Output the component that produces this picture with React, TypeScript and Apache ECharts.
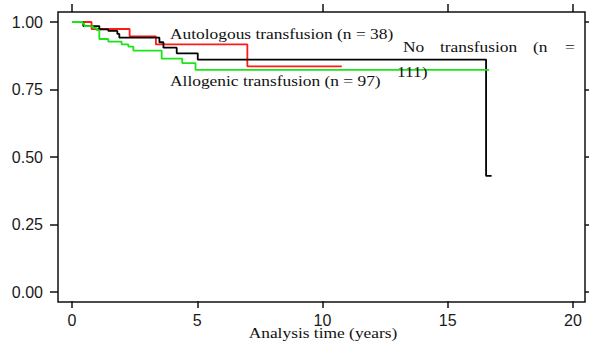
import React, { useEffect, useRef } from "react";
import * as echarts from "echarts";

// Kaplan-Meier step data (time in years, survival proportion)
const noTransTimes = [0, 0.45, 1.09, 1.45, 1.81, 1.89, 3.49, 3.65, 4.18, 5.02, 16.53, 16.75];
const noTransSurv = [1.0, 0.985, 0.973, 0.967, 0.956, 0.942, 0.925, 0.905, 0.884, 0.861, 0.43, 0.43];

const autoTimes = [0, 0.78, 2.3, 3.35, 7.0, 10.77];
const autoSurv = [1.0, 0.974, 0.947, 0.917, 0.836, 0.836];

const alloTimes = [0, 0.43, 0.49, 0.83, 0.98, 1.09, 1.45, 1.98, 2.25, 2.45, 3.58, 4.4, 4.93, 16.65];
const alloSurv = [1.0, 0.994, 0.985, 0.978, 0.97, 0.937, 0.927, 0.917, 0.909, 0.894, 0.864, 0.848, 0.823, 0.823];

const xTicks = [0, 5, 10, 15, 20];
const topTicks = [0, 10, 15, 20];
const yTickLabels = ["0.00", "0.25", "0.50", "0.75", "1.00"];

const xTitle = "Analysis time (years)";
const labelAuto = "Autologous transfusion (n = 38)";
const labelAllo = "Allogenic transfusion (n = 97)";
const labelNoWords = ["No", "transfusion", "(n", "="];
const labelNoLine2 = "111)";

const zip = (t: number[], s: number[]) => t.map((v, i) => [v, s[i]]);

const SERIF = "'Liberation Serif', 'Times New Roman', serif";
const SANS = "'Liberation Sans', Arial, sans-serif";

export default function App() {
  const ref = useRef<HTMLDivElement>(null);

  useEffect(() => {
    if (!ref.current) return;
    const chart = echarts.init(ref.current, null, { renderer: "svg" });

    const serifText = (text: string, x: number, y: number, align = "left") => ({
      type: "text",
      x,
      y,
      scaleX: 1.2,
      z: 10,
      style: {
        text,
        fontSize: 14.5,
        fontFamily: SERIF,
        fill: "#111",
        align,
        textAlign: align,
        verticalAlign: "middle",
        textVerticalAlign: "middle",
      },
    });

    const wordX = [403, 440, 533, 565];
    const tickStyle = { color: "#111", width: 1.5 };

    chart.setOption({
      animation: false,
      backgroundColor: "#fff",
      grid: { left: 72, right: 16, top: 22, bottom: 55, containLabel: false },
      xAxis: [
        {
          type: "value",
          position: "bottom",
          min: 0,
          max: 20,
          interval: 5,
          offset: 9,
          axisLine: { show: false, onZero: false },
          axisTick: { show: true, inside: false, length: 7, lineStyle: tickStyle },
          axisLabel: {
            fontSize: 16,
            fontFamily: SANS,
            color: "#1a1a1a",
            margin: 11,
            formatter: (v: number) => (xTicks.includes(v) ? String(v) : ""),
          },
          splitLine: { show: false },
        },
        {
          type: "value",
          position: "top",
          min: 0,
          max: 20,
          interval: 5,
          offset: 10,
          axisLine: { show: false, onZero: false },
          axisTick: {
            show: true,
            inside: false,
            length: 8,
            customValues: topTicks,
            lineStyle: tickStyle,
          },
          axisLabel: { show: false },
          splitLine: { show: false },
        },
      ],
      yAxis: [
        {
          type: "value",
          position: "left",
          min: 0,
          max: 1,
          interval: 0.25,
          offset: 14,
          axisLine: { show: false, onZero: false },
          axisTick: { show: true, inside: false, length: 8, lineStyle: tickStyle },
          axisLabel: {
            fontSize: 16,
            fontFamily: SANS,
            color: "#1a1a1a",
            margin: 15,
            padding: [10, 0, 0, 0],
            formatter: (v: number) => yTickLabels[Math.round(v * 4)] ?? "",
          },
          splitLine: { show: false },
        },
        {
          type: "value",
          position: "right",
          min: 0,
          max: 1,
          interval: 0.25,
          offset: 12,
          axisLine: { show: false, onZero: false },
          axisTick: { show: true, inside: false, length: 5, lineStyle: tickStyle },
          axisLabel: { show: false },
          splitLine: { show: false },
        },
      ],
      series: [
        {
          name: "No transfusion",
          type: "line",
          step: "end",
          showSymbol: false,
          data: zip(noTransTimes, noTransSurv),
          lineStyle: { color: "#000", width: 1.8 },
          z: 3,
        },
        {
          name: "Autologous transfusion",
          type: "line",
          step: "end",
          showSymbol: false,
          data: zip(autoTimes, autoSurv),
          lineStyle: { color: "#ff1a1a", width: 1.8 },
          z: 2,
        },
        {
          name: "Allogenic transfusion",
          type: "line",
          step: "end",
          showSymbol: false,
          data: zip(alloTimes, alloSurv),
          lineStyle: { color: "#19e619", width: 1.8 },
          z: 4,
        },
      ],
      graphic: [
        {
          type: "rect",
          shape: { x: 58, y: 12, width: 527, height: 290 },
          style: { fill: "none", stroke: "#111", lineWidth: 1.5 },
          z: 1,
          silent: true,
        },
        serifText(labelAuto, 170, 34),
        ...labelNoWords.map((w, i) => serifText(w, wordX[i], 47)),
        serifText(labelNoLine2, 397, 72),
        serifText(labelAllo, 170, 81),
        serifText(xTitle, 323, 333, "center"),
      ],
    });

    return () => chart.dispose();
  }, []);

  return (
    <div
      ref={ref}
      style={{ position: "fixed", left: 0, top: 0, width: 589, height: 347, background: "#fff" }}
    />
  );
}
